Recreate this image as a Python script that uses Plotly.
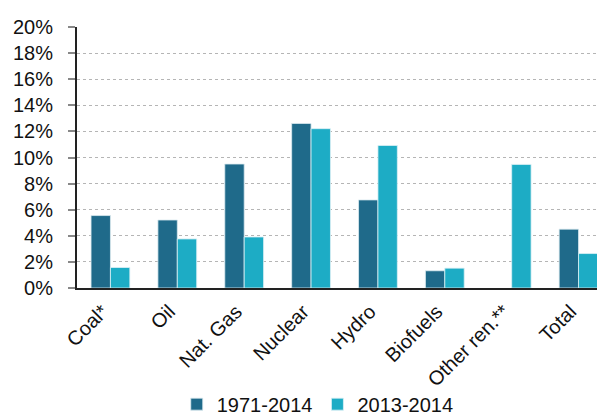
import plotly.graph_objects as go

categories = ["Coal*", "Oil", "Nat. Gas", "Nuclear", "Hydro", "Biofuels", "Other ren.**", "Total"]
growth_1971_2014 = [0.0555, 0.0521, 0.0950, 0.1261, 0.0675, 0.0132, None, 0.0451]
growth_2013_2014 = [0.0157, 0.0376, 0.0391, 0.1221, 0.1092, 0.0152, 0.0947, 0.0264]

fig = go.Figure()

fig.add_trace(go.Bar(
    x=categories,
    y=growth_1971_2014,
    name="1971-2014",
    marker=dict(color="#1F6A8A", line=dict(color="rgba(220,235,240,0.8)", width=1)),
))
fig.add_trace(go.Bar(
    x=categories,
    y=growth_2013_2014,
    name="2013-2014",
    marker=dict(color="#1DACC5", line=dict(color="rgba(220,240,245,0.8)", width=1)),
))

fig.update_layout(
    width=605,
    height=416,
    margin=dict(l=69, r=1, t=19, b=129),
    barmode="group",
    bargap=0.42,
    bargroupgap=0,
    plot_bgcolor="white",
    paper_bgcolor="white",
    font=dict(family="Liberation Sans, Arial, sans-serif", size=20, color="#111111"),
    legend=dict(
        orientation="h",
        x=0.45,
        xanchor="center",
        y=-0.445,
        yanchor="middle",
        font=dict(size=20),
        itemwidth=30,
        bgcolor="rgba(0,0,0,0)",
    ),
    showlegend=True,
)

fig.update_xaxes(
    showline=True,
    linecolor="#222222",
    linewidth=2,
    tickangle=-45,
    ticks="",
    tickfont=dict(size=20),
    ticklabelstandoff=2,
    ticklabelshift=-8,
)
fig.update_yaxes(
    range=[0, 0.2],
    dtick=0.02,
    tickformat=".0%",
    tickfont=dict(size=20),
    showgrid=True,
    gridcolor="#b5b5b5",
    griddash="dot",
    gridwidth=1,
    showline=True,
    linecolor="#222222",
    linewidth=2,
    ticks="outside",
    ticklen=7,
    tickcolor="#888888",
    tickwidth=2,
    ticklabelstandoff=11,
    zeroline=False,
)

fig.write_html("out.html")
